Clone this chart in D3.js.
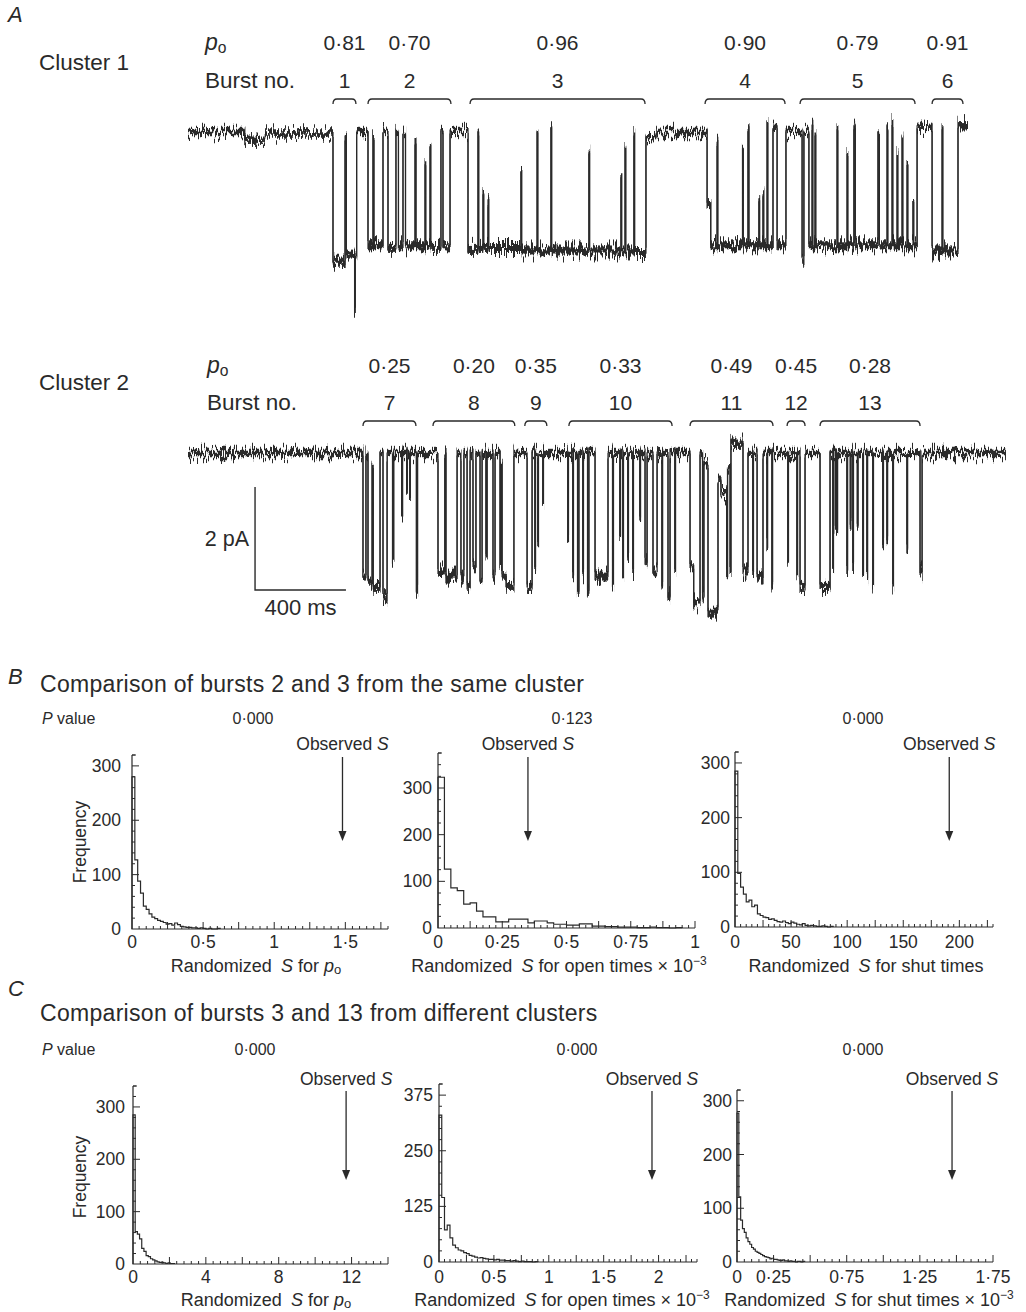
<!DOCTYPE html>
<html>
<head>
<meta charset="utf-8">
<script src="https://cdn.jsdelivr.net/npm/d3@7"></script>
<style>
  body { margin: 0; background: #fff; }
  svg { display: block; }
  text { font-family: "Liberation Sans", Arial, sans-serif; fill: #2a2a2a; }
</style>
</head>
<body>
<svg id="fig" width="1026" height="1312"></svg>
<script>
// ---------- single-channel records: [time (ms), current level (pA, inward down)] ----------
const trace1Steps = [
  [0,0],[250,0.15],[340,0.03],
  [638,2.5],[691,0.1],[697,2.4],[733,3.5],[736,2.4],[742,0],
  [792,2.2],[814,0.05],[818,2.2],[858,0],[880,2.25],[915,0],[926,2.2],[946,0],[957,2.2],[999,0.1],[1003,2.2],
  [1043,0.6],[1046,2.2],[1065,0.3],[1068,2.25],[1113,0],[1122,2.2],[1153,0],
  [1232,2.25],[1276,0],[1279,2.25],[1298,1.2],[1301,2.25],[1320,1.3],[1323,2.25],[1465,0.75],[1468,2.3],
  [1536,0],[1539,2.3],[1597,-0.1],[1600,2.3],[1764,0.35],[1767,2.3],[1905,0.85],[1908,2.3],[1923,0.3],[1926,2.3],
  [1962,0],[1965,2.35],[2015,0.1],[2060,0],
  [2284,1.4],[2300,2.2],[2328,0.2],[2331,2.2],[2440,0.3],[2443,2.2],[2464,-0.1],[2468,2.2],[2512,1.3],[2515,2.2],
  [2530,1.2],[2533,2.2],[2548,-0.2],[2551,2.2],[2574,-0.1],[2592,2.2],[2631,0],
  [2702,2.5],[2710,0],
  [2732,2.2],[2746,-0.15],[2749,2.2],[2759,0],[2762,2.2],[2856,-0.1],[2859,2.2],[2900,0.4],[2903,2.2],[2930,-0.1],[2936,2.2],
  [3036,0.05],[3042,2.2],[3076,-0.1],[3079,2.2],[3098,-0.2],[3101,2.2],[3120,0.4],[3123,2.2],[3142,0.1],[3145,2.2],
  [3164,0.65],[3167,2.2],[3190,1.35],[3193,2.2],[3208,-0.1],
  [3274,2.3],[3318,-0.1],[3321,2.3],[3388,-0.15]
];
const trace1End = 3432;

const trace2Steps = [
  [0,0],
  [770,2.4],[783,0],[792,2.5],[810,0.3],[815,2.6],[845,0],[858,2.8],[876,0],[900,2.1],[905,0],[940,1.2],[944,0],
  [962,0.7],[965,0],[975,0.9],[978,0],[1005,2.7],[1010,0],
  [1100,2.3],[1130,0],[1135,2.4],[1184,0],[1201,2.4],[1214,0],[1228,2.6],[1241,0],[1254,2.2],[1267,0],[1285,2.5],[1294,0],
  [1311,2.0],[1316,0],[1342,2.4],[1351,0],[1373,2.2],[1378,0.2],[1382,2.4],[1400,2.6],[1434,0],
  [1492,2.6],[1514,0],[1526,2.3],[1529,0],[1539,1.8],[1542,0],[1561,1.0],[1564,0],
  [1671,1.7],[1674,0],[1693,2.4],[1696,0],[1714,2.7],[1720,0],[1737,2.4],[1740,0],[1758,2.7],[1764,0],[1791,2.4],[1848,0],
  [1868,2.6],[1872,0],[1900,1.6],[1903,0],[1913,2.4],[1916,0],[1935,2.0],[1938,0],[1957,2.3],[1960,0],[1988,1.3],[1991,0],
  [2011,2.1],[2020,0],[2046,2.3],[2064,0],[2085,2.6],[2088,0],[2112,2.8],[2121,0],[2142,2.3],[2145,0],
  [2209,2.2],[2225,2.9],[2253,0],[2264,2.8],[2270,0.2],[2288,3.1],[2332,0.5],[2345,0.8],[2370,2.4],[2374,0.3],[2385,2.3],[2389,-0.2],
  [2442,2.3],[2464,0],[2485,2.3],[2488,0],[2504,2.4],[2530,0],[2547,1.8],[2550,0],[2569,2.6],[2572,0],
  [2639,2.1],[2642,0],[2679,2.4],[2682,0],[2693,2.6],[2715,0],
  [2781,2.6],[2825,0],[2837,2.3],[2840,0],[2848,1.5],[2851,0],[2855,1.5],[2858,0],[2899,2.3],[2902,0],[2914,1.4],[2917,0],
  [2925,2.2],[2928,0],[2945,1.4],[2948,0],[2969,2.3],[2972,0],[2987,2.4],[2990,0],[3013,2.6],[3016,0],[3057,1.8],[3060,0],
  [3075,1.7],[3078,0],[3101,2.6],[3104,0],[3163,1.9],[3166,0],[3221,2.3],[3230,0]
];
const trace2End = 3599;

// burst limits (ms), open probabilities and burst numbers
const bursts1 = [[638,739],[792,1157],[1241,2011],[2275,2627],[2693,3199],[3274,3410]];
const po1 = [0.81, 0.70, 0.96, 0.90, 0.79, 0.91];
const burstNo1 = [1, 2, 3, 4, 5, 6];
const bursts2 = [[770,1003],[1078,1438],[1482,1579],[1676,2130],[2209,2574],[2636,2715],[2781,3221]];
const po2 = [0.25, 0.20, 0.35, 0.33, 0.49, 0.45, 0.28];
const burstNo2 = [7, 8, 9, 10, 11, 12, 13];

// scale bar values
const barTime = 400;   // ms
const barCurrent = 2;  // pA

// ---------- randomization histograms ----------
const countsB1 = [280,127,88,66,42,36,28,22,19,16,14,12,9,10,7,11,8,5,4,3,3,2,2,1,2,1,0,1,0,0,1];            // bin 0.02
const countsB2 = [323,126,86,80,51,54,36,24,24,13,13,19,19,19,11,15,15,11,8,8,6,6,9,9,4,4,3,3,2,2,2,1,1,2,1,1,0,1]; // bin 0.025
const countsB3 = [285,98,73,60,46,49,37,40,24,21,18,17,14,15,12,10,9,11,8,6,9,7,5,4,6,3,2,3,2,1,1,2,1,0,1];   // bin 2.5
const countsC1 = [285,62,57,48,30,24,16,14,10,8,6,4,3,3,2,1,2,1,1];                                          // bin 0.12
const countsC2 = [330,145,72,83,54,38,32,27,25,21,19,15,13,11,9,10,8,7,6,6,5,6,4,4,3,3,2,3,2,1,2,1,1,1,0,1]; // bin 0.025
const countsC3 = [277,121,78,62,55,45,38,33,27,24,20,18,16,14,12,10,9,8,6,7,5,5,4,3,3,4,2,2,1,2,1,1,0,1,1,0,1]; // bin 0.0125
const binWidths = [0.02, 0.025, 2.5, 0.12, 0.025, 0.0125];
const observedB = [1.48, 0.35, 191];
const observedC = [11.7, 1.94, 1.47];
const pValuesB = [0.000, 0.123, 0.000];
const pValuesC = [0.000, 0.000, 0.000];
const xTicksB = [[0,0.5,1,1.5],[0,0.25,0.5,0.75,1],[0,50,100,150,200]];
const xTicksC = [[0,4,8,12],[0,0.5,1,1.5,2],[0,0.25,0.75,1.25,1.75]];
const yTicksB = [[0,100,200,300],[0,100,200,300],[0,100,200,300]];
const yTicksC = [[0,100,200,300],[0,125,250,375],[0,100,200,300]];

// ---------- drawing ----------
const svg = d3.select('#fig');
const INK = '#2a2a2a';
const dot = s => String(s).replace('.', '\u00B7');

// recording-noise texture: two vertical-only displacements of the drawn records, merged
const defs = svg.append('defs');
const flt = defs.append('filter').attr('id', 'noise')
  .attr('x', '-0.02').attr('y', '-0.25').attr('width', '1.04').attr('height', '1.5')
  .attr('color-interpolation-filters', 'sRGB');
function displacement(seed, freq, scale, name) {
  flt.append('feTurbulence').attr('type', 'fractalNoise').attr('baseFrequency', freq)
    .attr('numOctaves', 1).attr('seed', seed).attr('result', name + 'n');
  const ct = flt.append('feComponentTransfer').attr('in', name + 'n').attr('result', name + 'c');
  ct.append('feFuncG').attr('type', 'linear').attr('slope', 2.2).attr('intercept', -0.6);
  flt.append('feColorMatrix').attr('in', name + 'c').attr('type', 'matrix')
    .attr('values', '0 0 0 0 0.5  0 1 0 0 0  0 0 0 0 0  0 0 0 0 1').attr('result', name + 'm');
  flt.append('feDisplacementMap').attr('in', 'SourceGraphic').attr('in2', name + 'm')
    .attr('scale', scale).attr('xChannelSelector', 'R').attr('yChannelSelector', 'G').attr('result', name);
}
displacement(11, '0.9 0.04', 17, 'd1');
displacement(29, '0.7 0.05', 10, 'd2');
const mg = flt.append('feMerge');
mg.append('feMergeNode').attr('in', 'd1');
mg.append('feMergeNode').attr('in', 'd2');

const xT = d3.scaleLinear().domain([0, trace1End]).range([188, 968]);
const yT1 = d3.scaleLinear().domain([0, 1]).range([132, 183.5]);
const yT2 = d3.scaleLinear().domain([0, 1]).range([453, 504.5]);

function drawTrace(steps, tEnd, y) {
  const pts = steps.concat([[tEnd, steps[steps.length - 1][1]]]);
  const g = svg.append('g').attr('filter', 'url(#noise)');
  const segs = steps.map((s, i) => ({ t0: s[0], t1: pts[i + 1][0], L: s[1] }))
    .filter(d => d.t1 - d.t0 > 5);
  // open levels carry more noise than the shut level
  g.selectAll('line').data(segs).join('line')
    .attr('x1', d => xT(d.t0)).attr('x2', d => xT(d.t1))
    .attr('y1', d => y(d.L)).attr('y2', d => y(d.L))
    .attr('stroke', INK).attr('stroke-width', d => d.L > 1 ? 6 : 4.4);
  g.append('path')
    .attr('d', d3.line().x(d => xT(d[0])).y(d => y(d[1])).curve(d3.curveStepAfter)(pts))
    .attr('fill', 'none').attr('stroke', INK).attr('stroke-width', 1.2);
}

function bracket(x0, x1, y) {
  return `M${x0},${y + 5} Q${x0},${y} ${x0 + 4},${y} L${x1 - 4},${y} Q${x1},${y} ${x1},${y + 5}`;
}

function drawBursts(spans, pos, nums, yBr, yNum, yPo) {
  const g = svg.append('g');
  g.selectAll('path').data(spans).join('path')
    .attr('d', d => bracket(xT(d[0]), xT(d[1]), yBr))
    .attr('fill', 'none').attr('stroke', INK).attr('stroke-width', 1.3);
  g.selectAll('text.no').data(spans).join('text').attr('class', 'no')
    .attr('x', d => xT((d[0] + d[1]) / 2)).attr('y', yNum)
    .attr('text-anchor', 'middle').attr('font-size', 21).text((d, i) => nums[i]);
  g.selectAll('text.po').data(spans).join('text').attr('class', 'po')
    .attr('x', d => xT((d[0] + d[1]) / 2)).attr('y', yPo)
    .attr('text-anchor', 'middle').attr('font-size', 21).text((d, i) => dot(d3.format('.2f')(pos[i])));
}

function poLabel(x, y, size) {
  const t = svg.append('text').attr('x', x).attr('y', y).attr('font-size', size);
  t.append('tspan').attr('font-style', 'italic').text('p');
  t.append('tspan').attr('font-size', size * 0.68).attr('dy', 3).text('o');
  return t;
}

// Panel A text
svg.append('text').attr('x', 8).attr('y', 22).attr('font-size', 22).attr('font-style', 'italic').text('A');
svg.append('text').attr('x', 39).attr('y', 70).attr('font-size', 22.5).text('Cluster 1');
svg.append('text').attr('x', 39).attr('y', 390).attr('font-size', 22.5).text('Cluster 2');
poLabel(205, 50, 23);
poLabel(207, 373, 23);
svg.append('text').attr('x', 205).attr('y', 88).attr('font-size', 22.5).text('Burst no.');
svg.append('text').attr('x', 207).attr('y', 410).attr('font-size', 22.5).text('Burst no.');

drawBursts(bursts1, po1, burstNo1, 99, 88, 50);
drawBursts(bursts2, po2, burstNo2, 421, 410, 373);
drawTrace(trace1Steps, trace1End, yT1);
drawTrace(trace2Steps, trace2End, yT2);

// scale bar (drawn in the cluster 2 coordinates)
{
  const t0 = 295, c0 = 0.66;
  const xa = xT(t0), xb = xT(t0 + barTime);
  const ya = yT2(c0), yb = yT2(c0 + barCurrent);
  svg.append('path').attr('d', `M${xa},${ya} V${yb} H${xb}`)
    .attr('fill', 'none').attr('stroke', INK).attr('stroke-width', 1.4);
  svg.append('text').attr('x', xa - 6).attr('y', (ya + yb) / 2 + 8).attr('text-anchor', 'end')
    .attr('font-size', 21.5).text(`${barCurrent} pA`);
  svg.append('text').attr('x', (xa + xb) / 2).attr('y', yb + 25).attr('text-anchor', 'middle')
    .attr('font-size', 22).text(`${barTime} ms`);
}

// Panels B and C
svg.append('text').attr('x', 8).attr('y', 684).attr('font-size', 22).attr('font-style', 'italic').text('B');
svg.append('text').attr('x', 40).attr('y', 692).attr('font-size', 23).attr('letter-spacing', 0.3)
  .text('Comparison of bursts 2 and 3 from the same cluster');
svg.append('text').attr('x', 8).attr('y', 996).attr('font-size', 22).attr('font-style', 'italic').text('C');
svg.append('text').attr('x', 40).attr('y', 1021).attr('font-size', 23).attr('letter-spacing', 0.3)
  .text('Comparison of bursts 3 and 13 from different clusters');

const rowB = { pY: 724, obsY: 750, arrowTop: 757, arrowBot: 841, tickY: 948, labY: 972, freqY: 842 };
const rowC = { pY: 1055, obsY: 1085, arrowTop: 1091, arrowBot: 1180, tickY: 1283, labY: 1306, freqY: 1177 };

const panels = [
  { row: rowB, counts: countsB1, binW: binWidths[0], xMax: 1.8, yMax: 320, px: [132, 388], py: [929, 755],
    xMinor: 0.05, xMajor: 0.25, xLab: xTicksB[0], yMinor: 20, yMajor: 100, yLab: yTicksB[0],
    obs: observedB[0], p: pValuesB[0], pX: 253, lab: 'po', labX: 256, gap: 11, first: true },
  { row: rowB, counts: countsB2, binW: binWidths[1], xMax: 1, yMax: 375, px: [438, 695], py: [928, 753],
    xMinor: 0.025, xMajor: 0.125, xLab: xTicksB[1], yMinor: 25, yMajor: 100, yLab: yTicksB[1],
    obs: observedB[1], p: pValuesB[1], pX: 572, lab: 'open', labX: 559, gap: 6 },
  { row: rowB, counts: countsB3, binW: binWidths[2], xMax: 230, yMax: 320, px: [735, 993], py: [927, 752],
    xMinor: 5, xMajor: 25, xLab: xTicksB[2], yMinor: 20, yMajor: 100, yLab: yTicksB[2],
    obs: observedB[2], p: pValuesB[2], pX: 863, lab: 'shut', labX: 866, gap: 5 },
  { row: rowC, counts: countsC1, binW: binWidths[3], xMax: 14, yMax: 340, px: [133, 388], py: [1264, 1086],
    xMinor: 0.4, xMajor: 2, xLab: xTicksC[0], yMinor: 20, yMajor: 100, yLab: yTicksC[0],
    obs: observedC[0], p: pValuesC[0], pX: 255, lab: 'po', labX: 266, gap: 8, first: true },
  { row: rowC, counts: countsC2, binW: binWidths[4], xMax: 2.35, yMax: 400, px: [439, 697], py: [1262, 1084],
    xMinor: 0.05, xMajor: 0.25, xLab: xTicksC[1], yMinor: 25, yMajor: 125, yLab: yTicksC[1],
    obs: observedC[1], p: pValuesC[1], pX: 577, lab: 'open', labX: 562, gap: 6 },
  { row: rowC, counts: countsC3, binW: binWidths[5], xMax: 1.75, yMax: 320, px: [737, 993], py: [1262, 1090],
    xMinor: 0.05, xMajor: 0.25, xLab: xTicksC[2], yMinor: 20, yMajor: 100, yLab: yTicksC[2],
    obs: observedC[2], p: pValuesC[2], pX: 863, lab: 'shut', labX: 869, gap: 5, exp: true }
];

function axisLabel(g, kind, x, y, exp) {
  const t = g.append('text').attr('x', x).attr('y', y).attr('text-anchor', 'middle').attr('font-size', 18);
  t.append('tspan').text('Randomized\u2002');
  t.append('tspan').attr('font-style', 'italic').text('S');
  if (kind === 'po') {
    t.append('tspan').text(' for ');
    t.append('tspan').attr('font-style', 'italic').text('p');
    t.append('tspan').attr('font-size', 13).attr('dy', 2).text('o');
  } else {
    t.append('tspan').text(kind === 'open' ? ' for open times' : ' for shut times');
    if (kind === 'open' || exp) {
      t.append('tspan').text(exp ? '  \u00D7 10' : ' \u00D7 10');
      t.append('tspan').attr('font-size', 12).attr('dy', -7).text('\u22123');
    }
  }
}

const tickFmt = v => dot(d3.format('~g')(v));

panels.forEach(P => {
  const g = svg.append('g');
  const x = d3.scaleLinear().domain([0, P.xMax]).range(P.px);
  const y = d3.scaleLinear().domain([0, P.yMax]).range(P.py);
  const y0 = y(0);

  // axis lines
  g.append('path').attr('d', `M${x(0)},${y(P.yMax)} V${y0} H${x(P.xMax)}`)
    .attr('fill', 'none').attr('stroke', INK).attr('stroke-width', 1.2);

  // x ticks (inward)
  const nx = Math.round(P.xMax / P.xMinor);
  const xt = d3.range(1, nx + 1).map(i => i * P.xMinor);
  g.selectAll('line.xt').data(xt).join('line').attr('class', 'xt')
    .attr('x1', d => x(d)).attr('x2', d => x(d)).attr('y1', y0)
    .attr('y2', d => {
      const r = d / P.xMajor;
      return y0 - (Math.abs(r - Math.round(r)) < 1e-6 ? 7 : 3);
    })
    .attr('stroke', INK).attr('stroke-width', 1);
  g.selectAll('text.xl').data(P.xLab).join('text').attr('class', 'xl')
    .attr('x', d => x(d)).attr('y', P.row.tickY).attr('text-anchor', 'middle')
    .attr('font-size', 17.5).text(tickFmt);

  // y ticks (inward)
  const ny = Math.floor(P.yMax / P.yMinor);
  const yt = d3.range(1, ny + 1).map(i => i * P.yMinor);
  g.selectAll('line.yt').data(yt).join('line').attr('class', 'yt')
    .attr('y1', d => y(d)).attr('y2', d => y(d)).attr('x1', x(0))
    .attr('x2', d => x(0) + (d % P.yMajor === 0 ? 7 : 3))
    .attr('stroke', INK).attr('stroke-width', 1);
  g.append('line').attr('x1', x(0)).attr('x2', x(0) + 4).attr('y1', y(P.yMax)).attr('y2', y(P.yMax))
    .attr('stroke', INK).attr('stroke-width', 1);
  g.selectAll('text.yl').data(P.yLab).join('text').attr('class', 'yl')
    .attr('x', x(0) - P.gap).attr('y', d => y(d) + 6).attr('text-anchor', 'end')
    .attr('font-size', 17.5).text(d => d);

  // histogram outline
  let d = `M${x(0)},${y0}`;
  P.counts.forEach((c, i) => {
    d += ` V${y(c)} H${x((i + 1) * P.binW)}`;
  });
  d += ` V${y0}`;
  g.append('path').attr('d', d).attr('fill', 'none').attr('stroke', INK).attr('stroke-width', 1.2);

  // observed statistic arrow
  const xo = x(P.obs);
  g.append('line').attr('x1', xo).attr('x2', xo).attr('y1', P.row.arrowTop).attr('y2', P.row.arrowBot - 8)
    .attr('stroke', INK).attr('stroke-width', 1.3);
  g.append('path').attr('d', `M${xo - 4},${P.row.arrowBot - 10} L${xo + 4},${P.row.arrowBot - 10} L${xo},${P.row.arrowBot} Z`)
    .attr('fill', INK);
  const ot = g.append('text').attr('x', xo).attr('y', P.row.obsY).attr('text-anchor', 'middle').attr('font-size', 17.5);
  ot.append('tspan').text('Observed ');
  ot.append('tspan').attr('font-style', 'italic').text('S');

  // P value
  g.append('text').attr('x', P.pX).attr('y', P.row.pY).attr('text-anchor', 'middle')
    .attr('font-size', 16).text(dot(d3.format('.3f')(P.p)));
  if (P.first) {
    const pt = g.append('text').attr('x', 42).attr('y', P.row.pY).attr('font-size', 16);
    pt.append('tspan').attr('font-style', 'italic').text('P');
    pt.append('tspan').text(' value');
    g.append('text').attr('transform', `translate(86,${P.row.freqY}) rotate(-90)`)
      .attr('text-anchor', 'middle').attr('font-size', 17.5).text('Frequency');
  }

  axisLabel(g, P.lab, P.labX, P.row.labY, P.exp);
});
</script>
</body>
</html>
